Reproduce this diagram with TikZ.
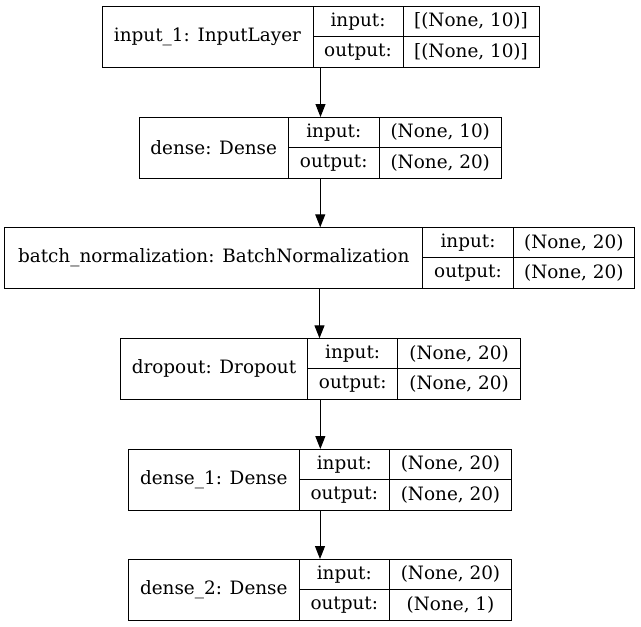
\documentclass[tikz,border=0pt]{standalone}
\usepackage{fontspec}
\setmainfont{DejaVu Serif}
\usetikzlibrary{arrows.meta,calc}

\begin{document}
\begin{tikzpicture}[x=1pt,y=-1pt,>={Triangle[length=13pt,width=10pt]},
                    line width=1pt,font=\fontsize{18.4}{22}\selectfont]
  \tikzset{cell/.style={draw,outer sep=0pt,inner sep=0pt,anchor=north west,
                        minimum height=61pt},
           half/.style={cell,minimum height=30.5pt}}
  \useasboundingbox (0,0) rectangle (641,627);

  % input_1
  \node[cell,minimum width=211pt]  (input1)      at (102,6)               {input\_1: InputLayer};
  \node[half,minimum width=90pt]   (input1-in)   at (input1.north east)   {input:};
  \node[half,minimum width=136pt]  (input1-inv)  at (input1-in.north east) {[(None, 10)]};
  \node[half,minimum width=90pt]   (input1-out)  at (input1-in.south west) {output:};
  \node[half,minimum width=136pt]  (input1-outv) at (input1-out.north east) {[(None, 10)]};

  % dense
  \node[cell,minimum width=149.5pt] (dense)      at (139,117)             {dense: Dense};
  \node[half,minimum width=90.5pt]  (dense-in)   at (dense.north east)    {input:};
  \node[half,minimum width=122.5pt] (dense-inv)  at (dense-in.north east) {(None, 10)};
  \node[half,minimum width=90.5pt]  (dense-out)  at (dense-in.south west) {output:};
  \node[half,minimum width=122.5pt] (dense-outv) at (dense-out.north east) {(None, 20)};

  % batch_normalization
  \node[cell,minimum width=418pt]  (bn)      at (4.7,227.3)        {batch\_normalization: BatchNormalization};
  \node[half,minimum width=90.6pt] (bn-in)   at (bn.north east)    {input:};
  \node[half,minimum width=121pt]  (bn-inv)  at (bn-in.north east) {(None, 20)};
  \node[half,minimum width=90.6pt] (bn-out)  at (bn-in.south west) {output:};
  \node[half,minimum width=121pt]  (bn-outv) at (bn-out.north east) {(None, 20)};

  % dropout
  \node[cell,minimum width=187pt]   (drop)      at (120.5,338.3)        {dropout: Dropout};
  \node[half,minimum width=90.4pt]  (drop-in)   at (drop.north east)    {input:};
  \node[half,minimum width=122.3pt] (drop-inv)  at (drop-in.north east) {(None, 20)};
  \node[half,minimum width=90.4pt]  (drop-out)  at (drop-in.south west) {output:};
  \node[half,minimum width=122.3pt] (drop-outv) at (drop-out.north east) {(None, 20)};

  % dense_1
  \node[cell,minimum width=171pt]   (dense1)      at (128.3,449)            {dense\_1: Dense};
  \node[half,minimum width=90pt]    (dense1-in)   at (dense1.north east)    {input:};
  \node[half,minimum width=122.4pt] (dense1-inv)  at (dense1-in.north east) {(None, 20)};
  \node[half,minimum width=90pt]    (dense1-out)  at (dense1-in.south west) {output:};
  \node[half,minimum width=122.4pt] (dense1-outv) at (dense1-out.north east) {(None, 20)};

  % dense_2
  \node[cell,minimum width=171pt]   (dense2)      at (128.3,559)            {dense\_2: Dense};
  \node[half,minimum width=90pt]    (dense2-in)   at (dense2.north east)    {input:};
  \node[half,minimum width=122.4pt] (dense2-inv)  at (dense2-in.north east) {(None, 20)};
  \node[half,minimum width=90pt]    (dense2-out)  at (dense2-in.south west) {output:};
  \node[half,minimum width=122.4pt] (dense2-outv) at (dense2-out.north east) {(None, 1)};

  \draw[->] ($(input1.south west)!.5!(input1-outv.south east)$) coordinate (o1) -- (o1 |- dense.north);
  \draw[->] ($(dense.south west)!.5!(dense-outv.south east)$)   coordinate (o2) -- (o2 |- bn.north);
  \draw[->] ($(bn.south west)!.5!(bn-outv.south east)$)         coordinate (o3) -- (o3 |- drop.north);
  \draw[->] ($(drop.south west)!.5!(drop-outv.south east)$)     coordinate (o4) -- (o4 |- dense1.north);
  \draw[->] ($(dense1.south west)!.5!(dense1-outv.south east)$) coordinate (o5) -- (o5 |- dense2.north);
\end{tikzpicture}
\end{document}
